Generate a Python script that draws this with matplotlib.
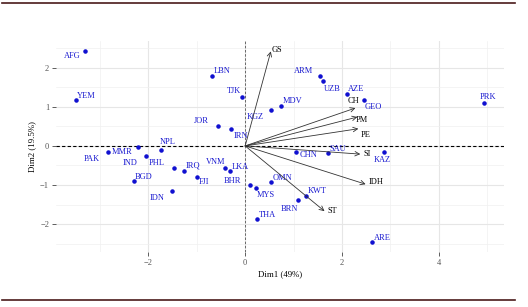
import numpy as np
import matplotlib
matplotlib.use("Agg")
import matplotlib.pyplot as plt
from matplotlib.lines import Line2D

# individuals (countries) on the first two dimensions
countries = ["AFG", "YEM", "LBN", "TJK", "JOR", "IRN", "KGZ", "MDV", "ARM", "UZB",
             "AZE", "GEO", "PRK", "KAZ", "SAU", "CHN", "NPL", "PAK", "MMR", "IND",
             "PHL", "IRQ", "FJI", "BGD", "IDN", "VNM", "LKA", "BHR", "MYS", "OMN",
             "BRN", "KWT", "THA", "ARE"]
dim1 = [-3.31, -3.49, -0.68, -0.07, -0.57, -0.29, 0.54, 0.75, 1.55, 1.61,
        2.10, 2.45, 4.93, 2.88, 1.72, 1.06, -1.75, -2.83, -2.21, -2.06,
        -1.48, -1.27, -0.99, -2.30, -1.51, -0.42, -0.32, 0.10, 0.22, 0.54,
        1.10, 1.26, 0.25, 2.63]
dim2 = [2.44, 1.17, 1.80, 1.24, 0.51, 0.43, 0.92, 1.03, 1.80, 1.67,
        1.33, 1.18, 1.11, -0.15, -0.19, -0.15, -0.11, -0.15, -0.04, -0.27,
        -0.56, -0.63, -0.79, -0.91, -1.16, -0.56, -0.65, -1.00, -1.08, -0.92,
        -1.38, -1.29, -1.88, -2.47]

# variables (arrows)
variables = ["GS", "CH", "PM", "PE", "SI", "IDH", "ST"]
var1 = [0.53, 2.28, 2.32, 2.34, 2.38, 2.49, 1.64]
var2 = [2.42, 0.97, 0.74, 0.44, -0.21, -0.98, -1.67]

# label offsets in points (repelled labels)
country_offsets = {
    "AFG": (-9.4, -4.1), "YEM": (7.2, 3.1), "LBN": (7, 3.2), "TJK": (-5.3, 4.6),
    "JOR": (-11.7, 3.8), "IRN": (7, -4.8), "KGZ": (-11.5, -5.3), "MDV": (8, 3.4),
    "ARM": (-12.2, 3.2), "UZB": (6.7, -5.8), "AZE": (7, 3.8), "GEO": (7.2, -5.5),
    "PRK": (3.1, 4.3), "KAZ": (-1.4, -6), "SAU": (6.5, 3.2), "CHN": (8.4, -2.4),
    "NPL": (4.8, 5.8), "PAK": (-12, -5.3), "MMR": (-11.5, -3.3), "IND": (-11, -4.8),
    "PHL": (-12, 3.2), "IRQ": (6.5, 3.4), "FJI": (4.8, -4), "BGD": (6.8, 2.9),
    "IDN": (-10.6, -5), "VNM": (-6.5, 3.9), "LKA": (7.5, 2.9), "BHR": (-12.5, 3.1),
    "MYS": (7.2, -5), "OMN": (7.7, 3.1), "BRN": (-6.2, -6.3), "KWT": (8, 3.6),
    "THA": (7, 3.1), "ARE": (7.5, 3.1),
}
var_offsets = {"GS": (4.5, 1.2), "CH": (-1.7, 4.8), "PM": (3.5, -1.9), "PE": (5, -4.5),
               "SI": (5, 0), "IDH": (7.5, 1.4), "ST": (5.5, 0)}

plt.rcParams["font.family"] = ["Liberation Serif", "DejaVu Serif"]

fig = plt.figure(figsize=(5.28, 3.07), dpi=100)
ax = fig.add_axes([56 / 528, 55 / 307, 448 / 528, 211 / 307])

# ggplot-like 5% expansion
xs = np.array(dim1)
ys = np.array(dim2)
xr = xs.max() - xs.min()
yr = ys.max() - ys.min()
ax.set_xlim(xs.min() - 0.05 * xr, xs.max() + 0.05 * xr)
ax.set_ylim(ys.min() - 0.05 * yr, ys.max() + 0.05 * yr)

ax.set_xticks([-2, 0, 2, 4])
ax.set_yticks([-2, -1, 0, 1, 2])
ax.set_xticks([-3, -1, 1, 3, 5], minor=True)
ax.set_yticks([-2.5, -1.5, -0.5, 0.5, 1.5, 2.5], minor=True)
ax.grid(which="major", color="#e6e6e6", lw=0.8)
ax.grid(which="minor", color="#f0f0f0", lw=0.5)
ax.set_axisbelow(True)
for s in ax.spines.values():
    s.set_visible(False)
ax.tick_params(which="major", length=3, width=0.6, color="#444444",
               labelsize=6, labelcolor="#555555", pad=2)
ax.tick_params(which="minor", length=0)

ax.axhline(0, color="black", ls=(0, (3, 2)), lw=0.8)
ax.axvline(0, color="#555555", ls=(0, (3, 2)), lw=0.6)

ax.scatter(dim1, dim2, s=5, color="#1010d0", zorder=3)
for name, x, y in zip(countries, dim1, dim2):
    dx, dy = country_offsets[name]
    ax.annotate(name, (x, y), xytext=(dx, dy), textcoords="offset points",
                ha="center", va="center", fontsize=6, color="#1a1ad0")

for name, x, y in zip(variables, var1, var2):
    ax.annotate("", xy=(x, y), xytext=(0, 0),
                arrowprops=dict(arrowstyle="->", color="#333333", lw=0.6,
                                shrinkA=0, shrinkB=0, mutation_scale=8))
    dx, dy = var_offsets[name]
    ax.annotate(name, (x, y), xytext=(dx, dy), textcoords="offset points",
                ha="center", va="center", fontsize=6, color="black")

ax.set_xlabel("Dim1 (49%)", fontsize=6.3, labelpad=2)
ax.set_ylabel("Dim2 (19.5%)", fontsize=6.3, labelpad=3)

# dark rules above and below the figure
fig.add_artist(Line2D([2 / 528, 515 / 528], [1 - 2.5 / 307] * 2, color="#4a1a1a", lw=1.2))
fig.add_artist(Line2D([2 / 528, 515 / 528], [7 / 307] * 2, color="#4a1a1a", lw=1.2))

fig.savefig("out.png", dpi=100)
